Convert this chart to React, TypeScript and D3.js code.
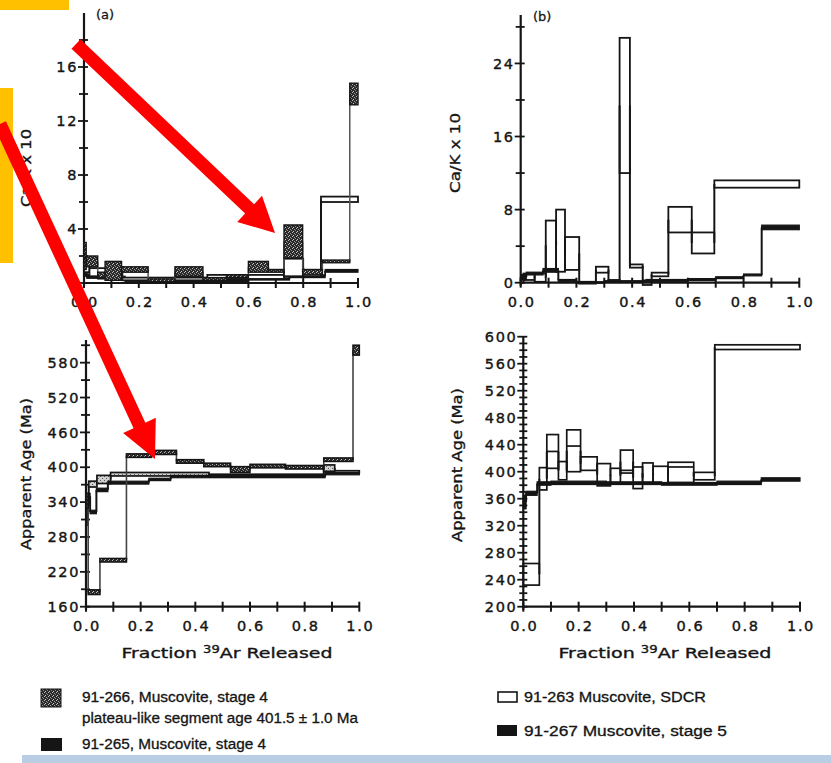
import React from "react";
import * as d3 from "d3";

// ---------------- DATA ----------------
// x-axis fraction ticks
const fracTicks = [0, 0.1, 0.2, 0.3, 0.4, 0.5, 0.6, 0.7, 0.8, 0.9, 1.0];
const fracLabels = ["0.0", "0.2", "0.4", "0.6", "0.8", "1.0"];

// Panel (a) Ca/K x 10
const aCaKTicks = [0, 2, 4, 6, 8, 10, 12, 14, 16, 18];
const aCaKLabels = [0, 4, 8, 12, 16];
// 91-266 (stippled)
const aCaK266Bounds = [0, 0.008, 0.05, 0.077, 0.137, 0.234, 0.332, 0.434, 0.52, 0.6, 0.673, 0.73, 0.798, 0.87, 0.97, 1.0];
const aCaK266Lo = [1.0, 1.2, 0.4, 0.2, 0.8, 0.1, 0.5, 0.2, 0.4, 0.8, 0.8, 1.85, 0.6, 1.5, 13.2];
const aCaK266Hi = [3.0, 2.0, 0.8, 1.6, 1.2, 0.3, 1.2, 0.4, 0.6, 1.6, 1.0, 4.3, 1.0, 1.7, 14.8];
// 91-265 (black)
const aCaK265Bounds = [0, 0.01, 0.05, 0.15, 0.25, 0.45, 0.6, 0.75, 0.88, 1.0];
const aCaK265Lo = [0.5, 0.35, 0.3, 0.1, 0.05, 0.12, 0.22, 0.4, 0.8];
const aCaK265Hi = [1.1, 0.65, 0.5, 0.2, 0.15, 0.28, 0.38, 0.6, 1.0];
// third step series (open)
const aCaKOpenBounds = [0, 0.02, 0.08, 0.14, 0.45, 0.73, 0.8, 0.865, 1.0];
const aCaKOpenLo = [0.8, 0.5, 0.3, 0.2, 0.3, 0.5, 0.5, 6.0];
const aCaKOpenHi = [1.6, 1.1, 0.7, 0.4, 0.6, 1.8, 0.9, 6.4];

// Panel (a) Apparent age
const aAgeTicks = [160, 190, 220, 250, 280, 310, 340, 370, 400, 430, 460, 490, 520, 550, 580, 610];
const aAgeLabels = [160, 220, 280, 340, 400, 460, 520, 580];
const aAge266Bounds = [0, 0.008, 0.051, 0.148, 0.24, 0.331, 0.431, 0.529, 0.6, 0.73, 0.87, 0.977, 1.0];
const aAge266Lo = [330, 181, 237, 417, 422, 407, 401, 391, 399, 397, 410, 593];
const aAge266Hi = [350, 189, 243, 423, 429, 413, 407, 401, 405, 403, 416, 610];
const aAge265Bounds = [0, 0.007, 0.015, 0.038, 0.08, 0.23, 0.31, 0.875, 1.0];
const aAge265Lo = [300, 345, 320, 358, 371, 377, 382, 387];
const aAge265Hi = [320, 355, 326, 364, 376, 381, 386, 391];
const aAgeOpenBounds = [0, 0.01, 0.04, 0.09, 0.45, 0.87, 0.91, 1.0];
const aAgeOpenLo = [335, 366, 372, 385, 383, 393, 390];
const aAgeOpenHi = [355, 376, 386, 391, 388, 404, 394];

// Panel (b) Ca/K x 10
const bCaKTicks = [0, 4, 8, 12, 16, 20, 24, 28];
const bCaKLabels = [0, 8, 16, 24];
const bCaK263Bounds = [0, 0.01, 0.05, 0.09, 0.127, 0.159, 0.21, 0.27, 0.315, 0.355, 0.392, 0.438, 0.47, 0.53, 0.614, 0.695, 1.0];
const bCaK263Lo = [0.0, 0.3, 0.1, 1.4, 1.2, 1.4, -0.1, 1.1, 0.1, 12.0, 1.65, -0.25, 0.7, 5.5, 3.2, 10.4];
const bCaK263Hi = [0.5, 1.0, 1.0, 6.8, 8.0, 5.0, 0.1, 1.75, 0.3, 26.8, 2.0, 0.25, 1.1, 8.3, 5.5, 11.2];
const bCaK267Bounds = [0, 0.02, 0.08, 0.135, 0.2, 0.3, 0.45, 0.6, 0.7, 0.8, 0.865, 1.0];
const bCaK267Lo = [0.3, 0.85, 1.15, 0.15, 0.0, 0.08, 0.15, 0.25, 0.45, 0.75, 5.8];
const bCaK267Hi = [0.9, 1.15, 1.55, 0.35, 0.1, 0.22, 0.35, 0.45, 0.65, 0.95, 6.3];

// Panel (b) Apparent age
const bAgeTicks = d3.range(200, 601, 10);
const bAgeLabels = [200, 240, 280, 320, 360, 400, 440, 480, 520, 560, 600];
const bAge263Bounds = [0, 0.058, 0.085, 0.127, 0.157, 0.207, 0.267, 0.315, 0.351, 0.397, 0.431, 0.469, 0.523, 0.616, 0.692, 1.0];
const bAge263Lo = [232, 373, 405, 388, 400, 402, 379, 383, 398, 375, 383, 383, 384, 388, 581];
const bAge263Hi = [264, 406, 455, 415, 462, 422, 412, 405, 432, 407, 413, 408, 414, 399, 588];
const bAge263Mid = [NaN, NaN, 430, NaN, 438, NaN, NaN, NaN, 402, NaN, NaN, NaN, 407, NaN, NaN];
const bAge267Bounds = [0, 0.01, 0.05, 0.1, 0.3, 0.5, 0.7, 0.86, 1.0];
const bAge267Lo = [345, 365, 380, 381, 381, 380, 381, 386];
const bAge267Hi = [365, 371, 385, 386, 385, 384, 386, 391];

// Legend
const legendLeft = ["91-266, Muscovite, stage 4", "plateau-like segment age 401.5 ± 1.0 Ma", "91-265, Muscovite, stage 4"];
const legendRight = ["91-263 Muscovite, SDCR", "91-267 Muscovite, stage 5"];

// ---------------- HELPERS ----------------
const INK = "#151515";
const FONT = "'DejaVu Sans', sans-serif";
const LFONT = "'Liberation Sans Narrow', 'Liberation Sans', sans-serif";

type Sc = d3.ScaleLinear<number, number>;

function Steps(props: {
  x: Sc; y: Sc; bounds: number[]; lo: number[]; hi: number[]; mid?: number[];
  fill: string; stroke?: string; sw?: number; conn?: string; connW?: number;
}) {
  const { x, y, bounds, lo, hi, mid, fill } = props;
  const stroke = props.stroke ?? INK;
  const sw = props.sw ?? 1.6;
  const conn = props.conn ?? INK;
  const connW = props.connW ?? 1.8;
  const n = lo.length;
  const els: React.ReactNode[] = [];
  for (let i = 0; i < n - 1; i++) {
    const xb = x(bounds[i + 1]);
    const c0 = (lo[i] + hi[i]) / 2;
    const c1 = (lo[i + 1] + hi[i + 1]) / 2;
    els.push(<line key={"c" + i} x1={xb} x2={xb} y1={y(c0)} y2={y(c1)} stroke={conn} strokeWidth={connW} />);
  }
  for (let i = 0; i < n; i++) {
    const x0 = x(bounds[i]);
    const x1 = x(bounds[i + 1]);
    const yt = y(hi[i]);
    const yb = y(lo[i]);
    els.push(
      <rect key={"r" + i} x={x0} y={yt} width={x1 - x0} height={Math.max(1.4, yb - yt)} fill={fill} stroke={stroke} strokeWidth={sw} />
    );
    if (mid && !isNaN(mid[i])) {
      els.push(<line key={"m" + i} x1={x0} x2={x1} y1={y(mid[i])} y2={y(mid[i])} stroke={stroke} strokeWidth={sw} />);
    }
  }
  return <g>{els}</g>;
}

function Axes(props: {
  x: Sc; y: Sc; yTicks: number[]; yLabels: number[]; yTop: number;
  xLabelY: number; minorLen?: number;
}) {
  const { x, y, yTicks, yLabels, yTop, xLabelY } = props;
  const ax = x(0);
  const ay = y(y.domain()[0]);
  const els: React.ReactNode[] = [];
  els.push(<line key="ya" x1={ax} x2={ax} y1={ay + 3} y2={yTop} stroke={INK} strokeWidth={2.2} />);
  els.push(<line key="xa" x1={ax} x2={x(1)} y1={ay} y2={ay} stroke={INK} strokeWidth={2.2} />);
  yTicks.forEach((t, i) => {
    const major = yLabels.includes(t);
    const l = major ? 6 : (props.minorLen ?? 5);
    els.push(<line key={"yt" + i} x1={ax - l} x2={ax + 4} y1={y(t)} y2={y(t)} stroke={INK} strokeWidth={1.8} />);
  });
  yLabels.forEach((t, i) => {
    els.push(
      <text key={"yl" + i} x={ax - 6} y={y(t)} dy="0.36em" textAnchor="end" fontFamily={FONT} fontSize={14.5} letterSpacing={1.6} fill={INK} stroke={INK} strokeWidth={0.4}>
        {t}
      </text>
    );
  });
  fracTicks.forEach((t, i) => {
    els.push(<line key={"xt" + i} x1={x(t)} x2={x(t)} y1={ay - 5} y2={ay + 5} stroke={INK} strokeWidth={2} />);
  });
  fracLabels.forEach((s, i) => {
    els.push(
      <text key={"xl" + i} x={x(+s) + 1} y={xLabelY} textAnchor="middle" fontFamily={FONT} fontSize={14.5} letterSpacing={1.6} fill={INK} stroke={INK} strokeWidth={0.4}>
        {s}
      </text>
    );
  });
  return <g>{els}</g>;
}

function arrowPoints(tx: number, ty: number, hx: number, hy: number, sw: number, hw: number, hl: number) {
  const dx = hx - tx, dy = hy - ty;
  const L = Math.hypot(dx, dy);
  const ux = dx / L, uy = dy / L;
  const px = -uy, py = ux;
  const bx = hx - ux * hl, by = hy - uy * hl;
  const pts = [
    [tx + px * sw / 2, ty + py * sw / 2],
    [bx + px * sw / 2, by + py * sw / 2],
    [bx + px * hw, by + py * hw],
    [hx, hy],
    [bx - px * hw, by - py * hw],
    [bx - px * sw / 2, by - py * sw / 2],
    [tx - px * sw / 2, ty - py * sw / 2],
  ];
  return pts.map((p) => p.join(",")).join(" ");
}

// ---------------- APP ----------------
export default function App() {
  // scales
  const xA = d3.scaleLinear([0, 1], [84, 358]);
  const yACaK = d3.scaleLinear([0, 20], [283, 13]);
  const xB = d3.scaleLinear([0, 1], [520.7, 799.3]);
  const yBCaK = d3.scaleLinear([0, 29.3], [282.7, 15]);
  const xA2 = d3.scaleLinear([0, 1], [86, 359.3]);
  const yAAge = d3.scaleLinear([160, 619], [606.7, 340]);
  const xB2 = d3.scaleLinear([0, 1], [523.3, 800]);
  const yBAge = d3.scaleLinear([200, 600], [606.7, 336.7]);

  const titleProps = { fontFamily: FONT, fontSize: 14.5, fill: INK, stroke: INK, strokeWidth: 0.35 } as const;
  const legProps = { fontFamily: LFONT, fontSize: 14, fill: INK, stroke: INK, strokeWidth: 0.3 } as const;

  return (
    <div style={{ position: "absolute", left: 0, top: 0 }}>
      <svg width={831} height={763} viewBox="0 0 831 763" style={{ display: "block", background: "#fff" }}>
        <defs>
          <pattern id="stip" width="4" height="4" patternUnits="userSpaceOnUse">
            <rect width="4" height="4" fill="#2a2a2a" />
            <rect x="0" y="0" width="1" height="1" fill="#bbb" />
            <rect x="2" y="1" width="1" height="1" fill="#999" />
            <rect x="1" y="3" width="1" height="1" fill="#ccc" />
            <rect x="3" y="2" width="1" height="1" fill="#888" />
          </pattern>
          <pattern id="stipLight" width="4" height="4" patternUnits="userSpaceOnUse">
            <rect width="4" height="4" fill="#d0d0d0" />
            <rect x="0" y="0" width="1" height="1" fill="#555" />
            <rect x="2" y="2" width="1" height="1" fill="#666" />
          </pattern>
        </defs>
        <rect x={0} y={0} width={831} height={763} fill="#fff" />

        {/* ---- Panel (a) Ca/K ---- */}
        <text x={96} y={19} fontFamily={FONT} fontSize={13} fill={INK} stroke={INK} strokeWidth={0.3}>(a)</text>
        <Axes x={xA} y={yACaK} yTicks={aCaKTicks} yLabels={aCaKLabels} yTop={13} xLabelY={307} />
        <Steps x={xA} y={yACaK} bounds={aCaK265Bounds} lo={aCaK265Lo} hi={aCaK265Hi} fill={INK} sw={1.2} />
        <Steps x={xA} y={yACaK} bounds={aCaKOpenBounds} lo={aCaKOpenLo} hi={aCaKOpenHi} fill="#fff" sw={1.8} connW={2} />
        <Steps x={xA} y={yACaK} bounds={aCaK266Bounds} lo={aCaK266Lo} hi={aCaK266Hi} fill="url(#stip)" sw={1.4} conn="#555" connW={1.5} />
        <text transform="translate(31,168) rotate(-90)" textAnchor="middle" {...titleProps} textLength={78} lengthAdjust="spacingAndGlyphs">Ca/K x 10</text>

        {/* ---- Panel (b) Ca/K ---- */}
        <text x={533} y={21} fontFamily={FONT} fontSize={13} fill={INK} stroke={INK} strokeWidth={0.3}>(b)</text>
        <Axes x={xB} y={yBCaK} yTicks={bCaKTicks} yLabels={bCaKLabels} yTop={15} xLabelY={307} />
        <Steps x={xB} y={yBCaK} bounds={bCaK263Bounds} lo={bCaK263Lo} hi={bCaK263Hi} fill="none" sw={1.8} connW={2} />
        <Steps x={xB} y={yBCaK} bounds={bCaK267Bounds} lo={bCaK267Lo} hi={bCaK267Hi} fill={INK} sw={1.2} connW={2} />
        <text transform="translate(460,153) rotate(-90)" textAnchor="middle" {...titleProps} textLength={80} lengthAdjust="spacingAndGlyphs">Ca/K x 10</text>

        {/* ---- Panel (a) Age ---- */}
        <Axes x={xA2} y={yAAge} yTicks={aAgeTicks} yLabels={aAgeLabels} yTop={340} xLabelY={631} />
        <Steps x={xA2} y={yAAge} bounds={aAgeOpenBounds} lo={aAgeOpenLo} hi={aAgeOpenHi} fill="url(#stipLight)" sw={1.7} connW={2} />
        <Steps x={xA2} y={yAAge} bounds={aAge265Bounds} lo={aAge265Lo} hi={aAge265Hi} fill={INK} sw={1.2} connW={2} />
        <Steps x={xA2} y={yAAge} bounds={aAge266Bounds} lo={aAge266Lo} hi={aAge266Hi} fill="url(#stip)" sw={1.6} conn="#444" connW={1.6} />
        <text transform="translate(31,474) rotate(-90)" textAnchor="middle" {...titleProps} textLength={152} lengthAdjust="spacingAndGlyphs">Apparent Age  (Ma)</text>
        <text x={227} y={658} textAnchor="middle" {...titleProps} textLength={211} lengthAdjust="spacingAndGlyphs">
          Fraction <tspan dy={-5} fontSize={10}>39</tspan><tspan dy={5}>Ar Released</tspan>
        </text>

        {/* ---- Panel (b) Age ---- */}
        <Axes x={xB2} y={yBAge} yTicks={bAgeTicks} yLabels={bAgeLabels} yTop={336.7} xLabelY={631} minorLen={4} />
        <Steps x={xB2} y={yBAge} bounds={bAge263Bounds} lo={bAge263Lo} hi={bAge263Hi} mid={bAge263Mid} fill="none" sw={1.7} connW={2} />
        <Steps x={xB2} y={yBAge} bounds={bAge267Bounds} lo={bAge267Lo} hi={bAge267Hi} fill={INK} sw={1.2} connW={2} />
        <text transform="translate(462,465) rotate(-90)" textAnchor="middle" {...titleProps} textLength={154} lengthAdjust="spacingAndGlyphs">Apparent Age  (Ma)</text>
        <text x={665} y={658} textAnchor="middle" {...titleProps} textLength={213} lengthAdjust="spacingAndGlyphs">
          Fraction <tspan dy={-5} fontSize={10}>39</tspan><tspan dy={5}>Ar Released</tspan>
        </text>

        {/* ---- Legend ---- */}
        <rect x={41} y={689} width={20} height={18} fill="url(#stip)" stroke={INK} strokeWidth={1} />
        <text x={82} y={702} {...legProps} textLength={186} lengthAdjust="spacingAndGlyphs">{legendLeft[0]}</text>
        <text x={82} y={723} {...legProps} textLength={276} lengthAdjust="spacingAndGlyphs">{legendLeft[1]}</text>
        <rect x={41} y={738} width={21} height={13} fill={INK} />
        <text x={82} y={749} {...legProps} textLength={184} lengthAdjust="spacingAndGlyphs">{legendLeft[2]}</text>
        <rect x={498} y={692} width={19} height={10} fill="#fff" stroke={INK} strokeWidth={1.6} />
        <text x={524} y={702} {...legProps} textLength={182} lengthAdjust="spacingAndGlyphs">{legendRight[0]}</text>
        <rect x={497} y={725} width={20} height={11} fill={INK} />
        <text x={524} y={736} {...legProps} textLength={203} lengthAdjust="spacingAndGlyphs">{legendRight[1]}</text>

        {/* ---- Overlay annotations ---- */}
        <rect x={22} y={755} width={809} height={8} fill="#b9cde5" />
        <rect x={0} y={0} width={69} height={10} fill="#ffc000" />
        <rect x={0} y={88} width={13} height={175} fill="#ffc000" />
        <polygon points={arrowPoints(76, 44, 275, 233, 13, 18, 35)} fill="#ff0000" />
        <polygon points={arrowPoints(0, 124, 155, 459, 13, 18, 37)} fill="#ff0000" />
      </svg>
    </div>
  );
}
